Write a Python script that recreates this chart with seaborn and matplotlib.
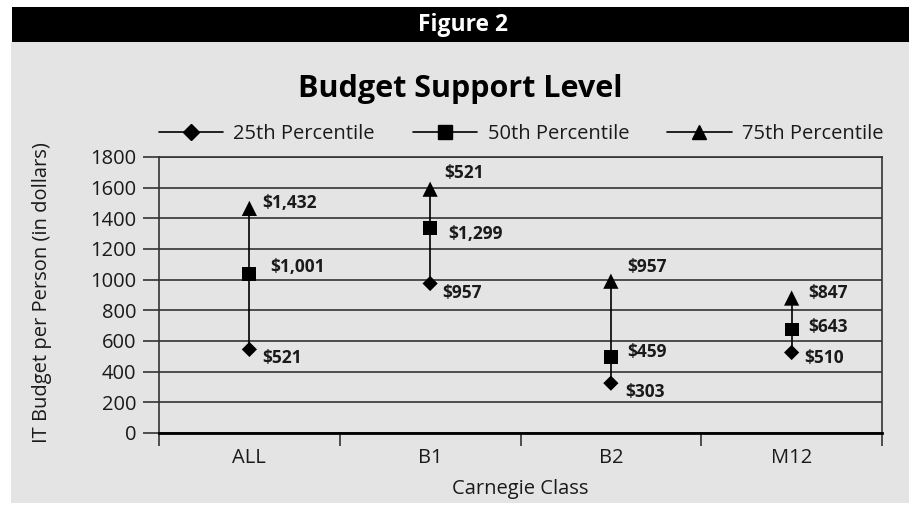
import numpy as np
import pandas as pd
import matplotlib
matplotlib.use("Agg")
import matplotlib.pyplot as plt
from matplotlib.lines import Line2D
from matplotlib.patches import Rectangle
import seaborn as sns

# Data
categories = ["ALL", "B1", "B2", "M12"]
p25 = [545, 975, 325, 525]
p50 = [1035, 1335, 495, 675]
p75 = [1465, 1590, 990, 880]

# label text as printed in the original (incl. its B1 typo)
lbl25 = ["$521", "$957", "$303", "$510"]
lbl50 = ["$1,001", "$1,299", "$459", "$643"]
lbl75 = ["$1,432", "$521", "$957", "$847"]

series_names = ["25th Percentile", "50th Percentile", "75th Percentile"]
yticks = list(range(0, 2000, 200))

BG = "#e4e4e4"
FS = 14.5

sns.set_style("white")
plt.rcParams["font.family"] = ["Open Sans", "DejaVu Sans"]
plt.rcParams["text.color"] = "#1a1a1a"
plt.rcParams["axes.labelcolor"] = "#1a1a1a"
plt.rcParams["xtick.color"] = "#1a1a1a"
plt.rcParams["ytick.color"] = "#1a1a1a"

df = pd.DataFrame({
    "Carnegie Class": categories * 3,
    "value": p25 + p50 + p75,
    "series": [series_names[0]] * 4 + [series_names[1]] * 4 + [series_names[2]] * 4,
})

fig = plt.figure(figsize=(9.16, 5.09), dpi=100, facecolor="white")

# grey panel and black header band
fig.patches.append(Rectangle((11 / 916, 6 / 509), 898 / 916, 461 / 509,
                             transform=fig.transFigure, facecolor=BG, edgecolor="none", zorder=-10))
fig.patches.append(Rectangle((12 / 916, 467 / 509), 897 / 916, 35 / 509,
                             transform=fig.transFigure, facecolor="black", edgecolor="none", zorder=-9))
fig.text(463 / 916, 1 - 31 / 509, "Figure 2", color="white", fontsize=16.5, fontweight="bold",
         ha="center", va="baseline")
fig.text(460 / 916, 1 - 97 / 509, "Budget Support Level", color="black", fontsize=22, fontweight="bold",
         ha="center", va="baseline")

ax = fig.add_axes([159 / 916, 1 - 433 / 509, (882 - 159) / 916, (433 - 157) / 509])
ax.set_facecolor(BG)

# vertical range lines
x = np.arange(len(categories))
ax.vlines(x, p25, p75, color="black", lw=1.2, zorder=2)

markers = {series_names[0]: "D", series_names[1]: "s", series_names[2]: "^"}
sizes = {series_names[0]: 60, series_names[1]: 100, series_names[2]: 120}
for name in series_names:
    sub = df[df["series"] == name]
    sns.scatterplot(data=sub, x="Carnegie Class", y="value", marker=markers[name],
                    s=sizes[name], color="black", edgecolor="none", ax=ax, zorder=3, legend=False)

# data labels (offsets in points)
offsets25 = [(9, -6), (9, -7), (10, -6), (9, -4)]
offsets50 = [(15, 5), (13, -4), (12, 4), (12, 2)]
offsets75 = [(9, 4), (10, 12), (12, 10), (12, 4)]
for vals, lbls, offs in [(p25, lbl25, offsets25), (p50, lbl50, offsets50), (p75, lbl75, offsets75)]:
    for xi, v, t, o in zip(x, vals, lbls, offs):
        ax.annotate(t, (xi, v), xytext=o, textcoords="offset points",
                    ha="left", va="center", fontsize=12.5, fontweight="bold")

ax.set_xlim(-0.5, len(categories) - 0.5)
ax.set_ylim(0, 1800)
ax.set_yticks(yticks)
ax.set_xticks(x)
ax.set_xticklabels(categories, fontsize=FS)
ax.set_xticks(np.arange(len(categories) + 1) - 0.5, minor=True)
ax.tick_params(axis="x", which="major", length=0, pad=11)
ax.tick_params(axis="x", which="minor", bottom=True, length=9, width=1.2, color="#333333", direction="out")
ax.tick_params(axis="y", left=True, length=11.5, width=1.2, color="#333333", direction="out",
               labelsize=FS, pad=5)
ax.yaxis.grid(True, color="#333333", lw=1.2)
ax.set_axisbelow(True)
for s in ["left", "right", "top"]:
    ax.spines[s].set_color("#333333")
    ax.spines[s].set_linewidth(1.2)
ax.spines["bottom"].set_color("black")
ax.spines["bottom"].set_linewidth(2)
ax.set_xlabel("Carnegie Class", fontsize=FS)
ax.xaxis.set_label_coords(0.5, -(479 - 433) / 276)
ax.set_ylabel("IT Budget per Person (in dollars)", fontsize=FS)
ax.yaxis.set_label_coords(-(159 - 52) / 723, 0.51)

handles = [Line2D([0], [0], color="black", lw=1.2, marker=markers[n],
                  markersize=8 if n == series_names[0] else 9.5) for n in series_names]
fig.legend(handles, series_names, loc="center", bbox_to_anchor=(521 / 916, 1 - 134 / 509),
           ncol=3, frameon=False, fontsize=FS, handlelength=3.2, columnspacing=1.9,
           handletextpad=0.5)

fig.savefig("out.png", dpi=100, facecolor="white")
